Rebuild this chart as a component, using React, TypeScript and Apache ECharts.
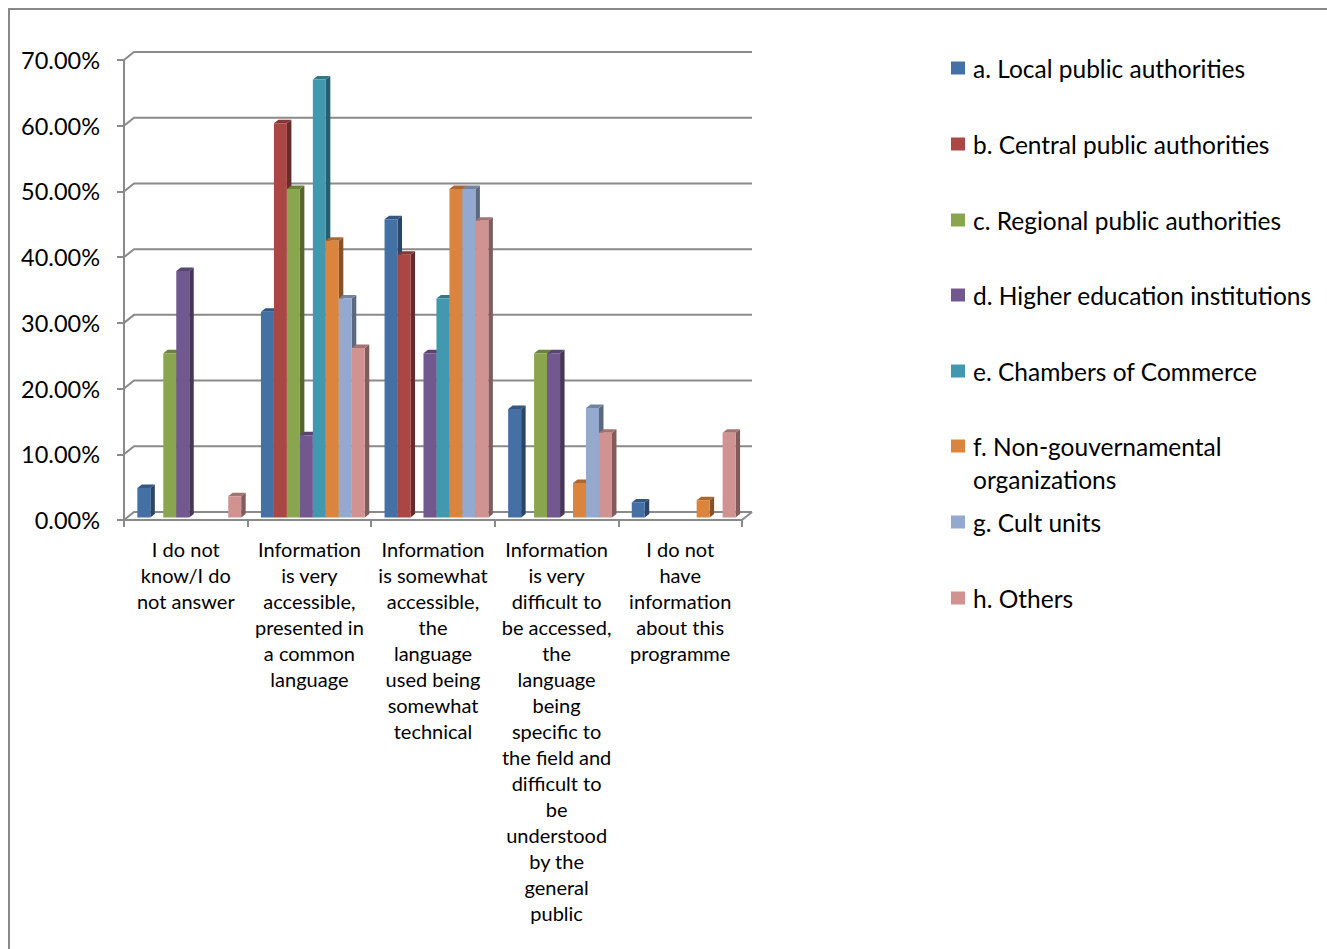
import React, { useEffect, useRef } from "react";
import * as echarts from "echarts";

const categoryLabels = [
  "I do not\nknow/I do\nnot answer",
  "Information\nis very\naccessible,\npresented in\na common\nlanguage",
  "Information\nis somewhat\naccessible,\nthe\nlanguage\nused being\nsomewhat\ntechnical",
  "Information\nis very\ndifficult to\nbe accessed,\nthe\nlanguage\nbeing\nspecific to\nthe field and\ndifficult to\nbe\nunderstood\nby the\ngeneral\npublic",
  "I do not\nhave\ninformation\nabout this\nprogramme",
];

const seriesNames = [
  "a. Local public authorities",
  "b. Central public authorities",
  "c. Regional public authorities",
  "d. Higher education institutions",
  "e. Chambers of Commerce",
  "f. Non-gouvernamental organizations",
  "g. Cult units",
  "h. Others",
];

const localPublic = [4.5, 31.3, 45.4, 16.5, 2.3];
const centralPublic = [0, 60, 40, 0, 0];
const regionalPublic = [25, 50, 0, 25, 0];
const higherEducation = [37.5, 12.5, 25, 25, 0];
const chambers = [0, 66.67, 33.33, 0, 0];
const ngos = [0, 42.1, 50, 5.26, 2.63];
const cultUnits = [0, 33.33, 50, 16.67, 0];
const others = [3.23, 25.81, 45.16, 12.9, 12.9];

const seriesValues = [localPublic, centralPublic, regionalPublic, higherEducation, chambers, ngos, cultUnits, others];

const yTicks = [0, 10, 20, 30, 40, 50, 60, 70];

const colors = ["#4470A6", "#AA4643", "#89A54E", "#71588F", "#4198AF", "#DB843D", "#93A9CF", "#D19392"];

const legendCenters = [68, 144, 220, 295, 371, 446, 522, 598];

const FONT = "Lato, 'Noto Sans', sans-serif";

function shade(hex: string, f: number) {
  const n = parseInt(hex.slice(1), 16);
  const r = Math.round(((n >> 16) & 255) * f);
  const g = Math.round(((n >> 8) & 255) * f);
  const b = Math.round((n & 255) * f);
  return `rgb(${r},${g},${b})`;
}

export default function App() {
  const ref = useRef<HTMLDivElement>(null);
  useEffect(() => {
    document.body.style.margin = "0";
    if (!ref.current) return;
    const chart = echarts.init(ref.current, undefined, { renderer: "svg" });
    const depthX = 4.5;
    const depthY = -3.5;
    const barSeries = seriesNames.map((name, s) => ({
      type: "custom",
      name,
      itemStyle: { color: colors[s] },
      encode: { x: 0, y: 1 },
      data: seriesValues[s].map((v, i) => [i, v]),
      z: 3,
      silent: true,
      renderItem: (params: any, api: any) => {
        const ci = api.value(0);
        const v = api.value(1);
        if (!v) return { type: "group", children: [] };
        const band = api.size([1, 0])[0];
        const c0 = api.coord([ci, 0]);
        const c1 = api.coord([ci, v]);
        const catLeft = c0[0] - band / 2;
        const bw = band * 0.105;
        const x = catLeft + band * 0.108 + s * bw;
        const yb = c0[1] - 2.5;
        const yt = c1[1] - 2.5;
        const col = colors[s];
        return {
          type: "group",
          children: [
            {
              type: "polygon",
              shape: { points: [[x + bw, yt], [x + bw + depthX, yt + depthY], [x + bw + depthX, yb + depthY], [x + bw, yb]] },
              style: { fill: shade(col, 0.62) },
            },
            {
              type: "polygon",
              shape: { points: [[x, yt], [x + depthX, yt + depthY], [x + bw + depthX, yt + depthY], [x + bw, yt]] },
              style: { fill: shade(col, 0.78) },
            },
            {
              type: "rect",
              shape: { x, y: yt, width: bw, height: yb - yt },
              style: { fill: col },
            },
          ],
        };
      },
    }));

    const gridSeries = {
      type: "custom",
      name: "gridlines",
      data: yTicks.map((t) => [0, t]),
      encode: { x: 0, y: 1 },
      z: 1,
      silent: true,
      renderItem: (params: any, api: any) => {
        const cs = params.coordSys;
        const p = api.coord([0, api.value(1)]);
        const y = p[1];
        const lineStyle = { stroke: "#8a8a8a", lineWidth: 2, fill: null };
        const children: any[] = [
          {
            type: "polyline",
            shape: { points: [[cs.x, y], [cs.x + 10, y - 8], [cs.x + cs.width + 10, y - 8]] },
            style: lineStyle,
          },
        ];
        if (api.value(1) === 0) {
          children.push({
            type: "line",
            shape: { x1: cs.x + cs.width, y1: y, x2: cs.x + cs.width + 10, y2: y - 8 },
            style: lineStyle,
          });
        }
        return { type: "group", children };
      },
    };

    const legends = seriesNames.map((name, i) => {
      const twoLine = name.startsWith("f.");
      const lh = twoLine ? 33 : 30;
      const lines = twoLine ? 3 : 1;
      return {
        data: [name],
        left: 951,
        top: legendCenters[i] - (lines * lh) / 2,
        orient: "vertical",
        icon: "rect",
        itemWidth: 14,
        itemHeight: 13,
        padding: 0,
        selectedMode: false,
        formatter: (n: string) => (n.startsWith("f.") ? "\nf. Non-gouvernamental\norganizations" : n),
        textStyle: {
          fontFamily: FONT,
          fontSize: 24.5,
          color: "#000",
          lineHeight: lh,
          padding: [0, 0, 0, 3],
        },
      };
    });

    chart.setOption({
      animation: false,
      backgroundColor: "#fff",
      graphic: [
        {
          type: "rect",
          shape: { x: 9, y: 9, width: 1400, height: 1100 },
          style: { fill: null, stroke: "#888", lineWidth: 2 },
          silent: true,
        },
      ],
      legend: legends,
      grid: { left: 124, top: 60, width: 618, height: 460 },
      xAxis: {
        type: "category",
        data: categoryLabels,
        boundaryGap: true,
        axisLine: { lineStyle: { color: "#8a8a8a", width: 2 } },
        axisTick: { show: true, interval: 0, length: 7, lineStyle: { color: "#8a8a8a", width: 2 } },
        axisLabel: {
          interval: 0,
          margin: 16,
          fontFamily: FONT,
          fontSize: 20,
          lineHeight: 26,
          color: "#000",
          align: "center",
          verticalAlign: "top",
        },
        splitLine: { show: false },
      },
      yAxis: {
        type: "value",
        min: 0,
        max: 70,
        interval: 10,
        axisLine: { show: true, lineStyle: { color: "#8a8a8a", width: 2 } },
        axisTick: { show: true, length: 7, lineStyle: { color: "#8a8a8a", width: 2 } },
        axisLabel: {
          margin: 24,
          fontFamily: FONT,
          fontSize: 23.5,
          color: "#000",
          formatter: (v: number) => `${v.toFixed(2)}%`,
        },
        splitLine: { show: false },
      },
      series: [gridSeries, ...barSeries],
    });
    return () => chart.dispose();
  }, []);
  return <div ref={ref} style={{ width: 1327, height: 949 }} />;
}
